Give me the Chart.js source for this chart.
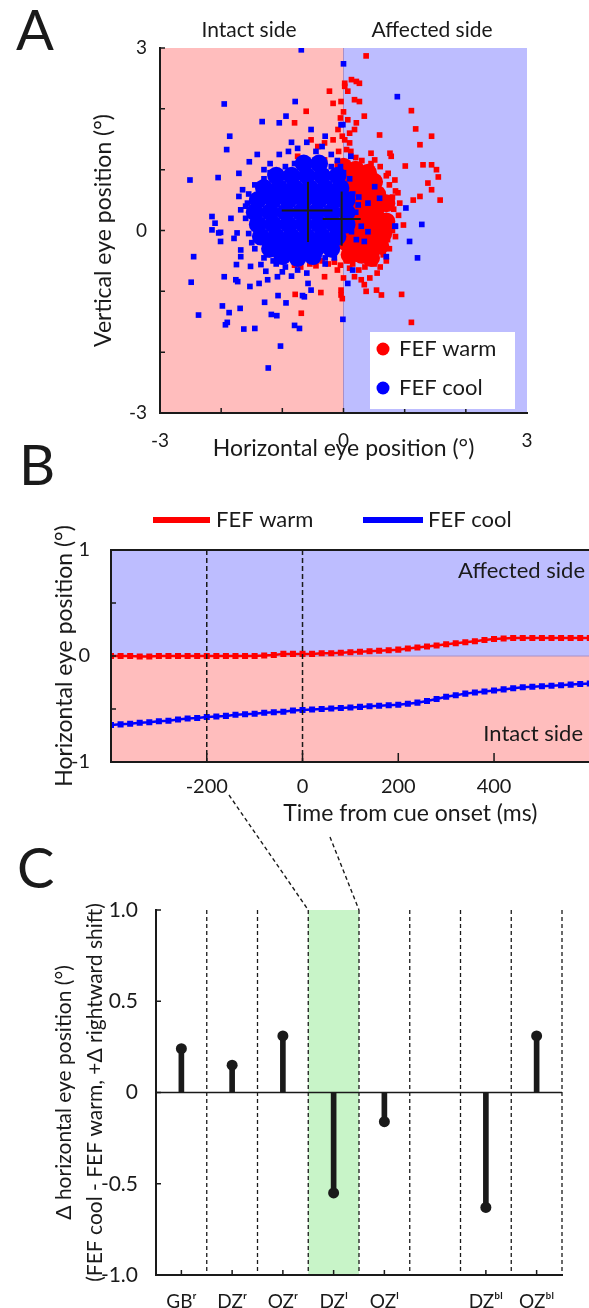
<!DOCTYPE html>
<html>
<head>
<meta charset="utf-8">
<script src="https://cdn.jsdelivr.net/npm/chart.js@4.4.0/dist/chart.umd.min.js"></script>
<style>
  html, body { margin: 0; padding: 0; overflow: hidden; background: #fff; }
  body { width: 589px; height: 1308px; position: relative; }
  canvas { position: absolute; left: 0; }
  #chartA { top: 0; }
  #chartB { top: 490px; }
  #chartC { top: 860px; }
  #overlay { top: 0; pointer-events: none; z-index: 5; }
</style>
</head>
<body>
<canvas id="chartA" width="589" height="470"></canvas>
<canvas id="chartB" width="716" height="340"></canvas>
<canvas id="chartC" width="589" height="448"></canvas>
<canvas id="overlay" width="589" height="1308"></canvas>
<script>
// ---------- panel A: end-of-fixation eye positions (deg) ----------
const warmCore = [
  [0.0, 1.05], [0.2, 1.0], [0.4, 0.95],
  [0.1, 0.8], [0.3, 0.8], [0.5, 0.8],
  [0.15, 0.6], [0.35, 0.6], [0.55, 0.6],
  [0.15, 0.4], [0.35, 0.4], [0.55, 0.4], [0.7, 0.45],
  [0.15, 0.2], [0.35, 0.2], [0.55, 0.2], [0.7, 0.15],
  [0.1, 0.0], [0.3, 0.0], [0.5, 0.0], [0.65, -0.05],
  [0.05, -0.2], [0.25, -0.2], [0.45, -0.2], [0.6, -0.25],
  [0.1, -0.4], [0.3, -0.4], [0.45, -0.45]
];
const warmPts = [
  [0.37, 2.87], [0.13, 2.48], [0.21, 2.45], [0.26, 2.42], [0.02, 2.42], [0.02, 2.37], [0.07, 2.29],
  [-0.23, 2.29], [-0.17, 2.09], [-0.04, 2.12], [0.18, 2.15], [0.26, 2.12], [-0.61, 1.96], [0.34, 1.88],
  [0.07, 1.82], [0.21, 1.77], [0.18, 1.66], [-0.8, 1.77], [-0.09, 1.66], [-0.53, 1.49], [-0.42, 1.38],
  [-0.31, 1.44], [-0.17, 1.49], [0.02, 1.49], [0.1, 1.44], [0.05, 1.33], [-0.75, 1.22], [-0.58, 1.05],
  [-0.31, 1.16], [0.59, 1.57], [0.76, 1.27], [0.78, 1.22], [0.45, 1.27], [0.51, 1.16], [1.11, 1.97],
  [1.18, 1.67], [1.44, 1.55], [1.25, 1.41], [1.01, 1.06], [1.30, 1.08], [1.44, 1.08], [1.52, 1.0],
  [1.55, 0.88], [1.38, 0.78], [1.44, 0.67], [1.58, 0.5], [1.14, 0.5], [1.25, 0.56], [0.73, 0.94],
  [0.84, 0.83], [0.89, 0.62], [0.98, 0.09], [0.01, 0.72],
  [0.0, 1.95], [-0.05, 1.85], [0.1, 1.6], [-0.02, 1.55], [0.12, 1.3], [-0.08, 1.3], [0.2, 1.2], [-0.1, 1.1],
  [0.82, 0.35], [0.9, 0.25], [0.78, 0.1], [0.85, -0.1], [0.75, -0.3], [0.8, 0.55], [0.92, 0.45],
  [0.95, -1.05], [1.11, -1.51], [0.62, -1.06], [0.54, -0.98], [0.37, -1.0], [0.34, -0.89], [0.18, -0.76],
  [0.29, -0.81], [0.43, -0.78], [-0.04, -1.06], [-0.04, -0.98], [-0.02, -1.12], [-0.79, -1.05],
  [-0.69, -1.36], [-0.37, -1.02], [-0.31, -0.76], [0.0, -0.78], [0.6, -0.6], [0.7, -0.5], [0.55, -0.7],
  [-0.8, -0.57], [-0.7, -0.6], [-0.55, -0.55], [-0.45, -0.58], [-0.35, -0.5], [-0.25, -0.55],
  [-0.15, -0.52], [-0.05, -0.57], [0.05, -0.5], [0.15, -0.55], [0.1, -0.62], [-0.1, -0.65],
  [0.75, 0.75], [0.7, 0.9], [0.6, 1.05], [0.45, 1.1], [0.8, 0.0], [0.72, -0.15], [0.65, -0.4],
  [0.5, -0.55], [0.35, -0.6], [0.25, -0.65], [0.85, 0.65], [0.3, 1.15]
];
const coolCore = [
  [-0.65, 1.1], [-0.4, 1.1],
  [-1.1, 0.9], [-0.85, 0.9], [-0.6, 0.9], [-0.35, 0.9], [-0.1, 0.9],
  [-1.3, 0.7], [-1.05, 0.7], [-0.8, 0.7], [-0.55, 0.7], [-0.3, 0.7], [-0.05, 0.7],
  [-1.4, 0.5], [-1.15, 0.5], [-0.9, 0.5], [-0.65, 0.5], [-0.4, 0.5], [-0.15, 0.5], [0.05, 0.5],
  [-1.45, 0.3], [-1.2, 0.3], [-0.95, 0.3], [-0.7, 0.3], [-0.45, 0.3], [-0.2, 0.3], [0.05, 0.3],
  [-1.4, 0.1], [-1.15, 0.1], [-0.9, 0.1], [-0.65, 0.1], [-0.4, 0.1], [-0.15, 0.1], [0.05, 0.1],
  [-1.35, -0.1], [-1.1, -0.1], [-0.85, -0.1], [-0.6, -0.1], [-0.35, -0.1], [-0.1, -0.1],
  [-1.2, -0.3], [-0.95, -0.3], [-0.7, -0.3], [-0.45, -0.3], [-0.2, -0.3],
  [-1.0, -0.42], [-0.75, -0.45], [-0.5, -0.42]
];
const coolPts = [
  [-0.69, 2.97], [0.0, 2.74], [-1.95, 2.08], [-0.79, 2.12], [-1.33, 1.79], [-1.86, 1.55], [-1.91, 1.33],
  [-2.51, 0.83], [-2.05, 0.87], [-1.05, 1.77], [-0.94, 1.88], [-0.53, 1.66], [-0.04, 1.74], [-1.54, 1.13],
  [-1.41, 1.25], [-1.71, 0.94], [-1.65, 0.67], [-1.71, 0.56], [-2.15, 0.23], [-2.1, 0.12], [-2.01, -0.03],
  [-1.84, 0.2], [-1.68, 0.34], [-1.57, 0.45], [0.88, 2.2], [1.02, 0.37], [0.85, 0.07], [1.28, 0.1],
  [0.12, 1.22], [0.51, 0.72], [0.59, 0.53], [0.4, 0.45], [0.24, 0.42], [-0.01, 1.74],
  [-2.45, -0.43], [-2.49, -0.85], [-2.37, -1.39], [-1.98, -1.24], [-1.87, -1.35], [-1.9, -1.51],
  [-1.93, -1.55], [-1.69, -1.28], [-1.63, -1.62], [-1.45, -1.61], [-1.29, -1.18], [-1.18, -1.38],
  [-1.09, -1.40], [-1.07, -1.07], [-0.94, -1.19], [-0.67, -1.07], [-0.8, -1.56], [-0.72, -1.61],
  [-1.03, -1.9], [-1.23, -2.26], [-0.01, -1.46], [-1.95, -0.76], [-1.76, -0.81], [-1.73, -0.84],
  [-1.53, -0.92], [-1.38, -0.87], [-1.24, -0.81], [-1.75, -0.56], [-1.68, -0.43], [-1.68, -0.32],
  [-2.01, -0.18], [-2.15, 0.01], [-2.04, -0.04], [-1.79, -0.13], [-1.74, -0.04], [-1.52, -0.59],
  [-1.35, -0.56], [-1.27, -0.67], [-1.08, -0.76], [-0.58, -0.87], [-0.53, -0.98], [-0.64, -1.09],
  [1.08, -0.18], [1.21, -0.45], [0.7, -0.43], [0.84, 0.07], [0.07, -0.87], [0.15, -0.65], [0.13, -0.02],
  [0.21, -0.15], [0.34, -0.18], [0.4, -0.02], [0.29, 0.07],
  [-1.3, 1.0], [-1.2, 1.1], [-1.05, 1.25], [-0.9, 1.3], [-0.75, 1.35], [-0.6, 1.45], [-0.45, 1.3],
  [-0.35, 1.38], [-0.2, 1.25], [-0.1, 1.15], [-0.85, 1.45], [-0.3, 1.55],
  [0.15, 0.6], [0.2, 0.3], [0.1, 0.85], [0.25, 0.55],
  [-1.45, -0.3], [-1.3, -0.45], [-1.15, -0.5], [-0.95, -0.6], [-0.75, -0.65], [-0.6, -0.7],
  [-1.4, -0.15], [-0.85, -0.75], [-1.0, -0.68],
  [-1.6, 0.2], [-1.6, 0.4], [-1.55, 0.6], [-1.55, -0.05], [-1.5, -0.2], [-1.45, 0.75], [-1.3, 0.85],
  [-1.2, 0.95], [-0.95, 1.05], [-0.8, 1.1], [-0.2, 1.05], [0.0, 0.95], [-0.05, 1.05], [-0.3, -0.45],
  [-0.15, -0.45], [-0.3, -0.55], [-1.25, -0.4], [-1.1, -0.55]
];
// mean +/- spread crosses
const coolCrossH = [[-1.01, 0.33], [-0.18, 0.33]];
const coolCrossV = [[-0.58, -0.19], [-0.58, 0.80]];
const warmCrossH = [[-0.34, 0.19], [0.28, 0.19]];
const warmCrossV = [[-0.03, -0.25], [-0.03, 0.64]];

// ---------- panel B: mean horizontal eye position vs time ----------
const timeMs = [-400, -380, -360, -340, -320, -300, -280, -260, -240, -220,
  -200, -180, -160, -140, -120, -100, -80, -60, -40, -20,
  0, 20, 40, 60, 80, 100, 120, 140, 160, 180,
  200, 220, 240, 260, 280, 300, 320, 340, 360, 380,
  400, 420, 440, 460, 480, 500, 520, 540, 560, 580, 600];
const warmTrace = [0.0, 0.0, 0.0, -0.005, -0.005, 0.0, 0.0, 0.0, 0.0, 0.0,
  0.0, 0.0, 0.0, 0.0, 0.0, 0.0, 0.005, 0.01, 0.02, 0.02,
  0.02, 0.02, 0.025, 0.025, 0.03, 0.035, 0.04, 0.045, 0.05, 0.055,
  0.06, 0.07, 0.08, 0.09, 0.10, 0.11, 0.12, 0.13, 0.14, 0.15,
  0.16, 0.165, 0.17, 0.17, 0.17, 0.17, 0.17, 0.17, 0.17, 0.17, 0.17];
const coolTrace = [-0.65, -0.645, -0.64, -0.63, -0.625, -0.615, -0.61, -0.6, -0.59, -0.585,
  -0.575, -0.57, -0.565, -0.555, -0.55, -0.545, -0.535, -0.53, -0.525, -0.515,
  -0.51, -0.505, -0.5, -0.495, -0.49, -0.485, -0.48, -0.475, -0.47, -0.465,
  -0.46, -0.45, -0.44, -0.425, -0.405, -0.385, -0.37, -0.355, -0.345, -0.335,
  -0.325, -0.315, -0.305, -0.295, -0.29, -0.285, -0.28, -0.275, -0.27, -0.265, -0.26];
const cueTimes = [-200, 0];

// ---------- panel C: cool - warm shift per site ----------
const sites = ['GBʳ', 'DZʳ', 'OZʳ', 'DZˡ', 'OZˡ', '', 'DZᵇˡ', 'OZᵇˡ'];
const shift = [0.24, 0.15, 0.31, -0.55, -0.16, null, -0.63, 0.31];
const highlightSite = 3;

const legendNames = ['FEF warm', 'FEF cool'];
const sideNames = ['Intact side', 'Affected side'];

const FONT = 'Lato, "DejaVu Sans", sans-serif';
const INK = '#1a1a1a';
const RED = '#ff0000';
const BLUE = '#0000ff';
const PINK = '#ffbdbd';
const LILAC = '#bdbdff';
const GREEN = '#c8f4c8';

Chart.defaults.font.family = FONT;
Chart.defaults.color = INK;

const toXY = arr => arr.map(p => ({ x: p[0], y: p[1] }));

// coloured half-planes (intact / affected)
const sideShade = {
  id: 'sideShade',
  beforeDraw(chart, args, opts) {
    const { ctx, chartArea: a, scales } = chart;
    ctx.save();
    if (opts.axis === 'x') {
      const x0 = scales.x.getPixelForValue(0);
      ctx.fillStyle = PINK;
      ctx.fillRect(a.left, a.top, x0 - a.left, a.bottom - a.top);
      ctx.fillStyle = LILAC;
      ctx.fillRect(x0, a.top, a.right - x0, a.bottom - a.top);
      ctx.strokeStyle = '#a890c8';
      ctx.lineWidth = 1;
      ctx.beginPath(); ctx.moveTo(x0, a.top); ctx.lineTo(x0, a.bottom); ctx.stroke();
    } else {
      const y0 = scales.y.getPixelForValue(0);
      ctx.fillStyle = LILAC;
      ctx.fillRect(a.left, a.top, a.right - a.left, y0 - a.top);
      ctx.fillStyle = PINK;
      ctx.fillRect(a.left, y0, a.right - a.left, a.bottom - y0);
      ctx.strokeStyle = '#a890c8';
      ctx.lineWidth = 1;
      ctx.beginPath(); ctx.moveTo(a.left, y0); ctx.lineTo(a.right, y0); ctx.stroke();
    }
    ctx.restore();
  }
};

// matlab style ticks pointing into the plot
const inTicks = {
  id: 'inTicks',
  afterDatasetsDraw(chart, args, opts) {
    const { ctx, chartArea: a, scales } = chart;
    ctx.save();
    ctx.strokeStyle = INK;
    ctx.lineWidth = 1.5;
    ctx.beginPath();
    scales.x.ticks.forEach(t => {
      if (opts.skipBlank && !t.label) return;
      const px = scales.x.getPixelForValue(t.value);
      if (px <= a.left + 1 || px >= a.right - 1) return;
      ctx.moveTo(px, a.bottom); ctx.lineTo(px, a.bottom - opts.lenX);
    });
    scales.y.ticks.forEach(t => {
      const py = scales.y.getPixelForValue(t.value);
      if (py >= a.bottom - 1) return;
      ctx.moveTo(a.left, py); ctx.lineTo(a.left + opts.lenY, py);
    });
    ctx.stroke();
    ctx.restore();
  }
};

// free text placed in the plot (side names)
const notes = {
  id: 'notes',
  afterDraw(chart, args, opts) {
    const { ctx } = chart;
    ctx.save();
    (opts.texts || []).forEach(t => {
      ctx.font = (t.size || 22) + 'px ' + FONT;
      ctx.fillStyle = INK;
      ctx.textAlign = t.align || 'center';
      ctx.textBaseline = 'middle';
      ctx.fillText(t.text, t.x, t.y);
    });
    ctx.restore();
  }
};

const legendA = {
  id: 'legendA',
  afterDraw(chart) {
    const { ctx } = chart;
    ctx.save();
    ctx.fillStyle = '#ffffff';
    ctx.fillRect(370, 332, 145, 77);
    [RED, BLUE].forEach((c, i) => {
      const y = 349 + i * 39;
      ctx.fillStyle = c;
      ctx.beginPath(); ctx.arc(383, y, 6.5, 0, Math.PI * 2); ctx.fill();
      ctx.fillStyle = INK;
      ctx.font = '22px ' + FONT;
      ctx.textBaseline = 'middle';
      ctx.fillText(legendNames[i], 399, y);
    });
    ctx.restore();
  }
};

const legendB = {
  id: 'legendB',
  afterDraw(chart) {
    const { ctx } = chart;
    const items = [[153, 210, 216, RED], [363, 423, 428, BLUE]];
    ctx.save();
    items.forEach((it, i) => {
      ctx.strokeStyle = it[3];
      ctx.lineWidth = 6;
      ctx.beginPath(); ctx.moveTo(it[0], 30); ctx.lineTo(it[1], 30); ctx.stroke();
      ctx.fillStyle = INK;
      ctx.font = '22px ' + FONT;
      ctx.textBaseline = 'middle';
      ctx.fillText(legendNames[i], it[2], 30);
    });
    ctx.restore();
  }
};

// dashed cue lines and box frame in panel B
const cueMarks = {
  id: 'cueMarks',
  afterDatasetsDraw(chart) {
    const { ctx, chartArea: a, scales } = chart;
    ctx.save();
    ctx.strokeStyle = INK;
    ctx.lineWidth = 1.5;
    ctx.setLineDash([5, 3]);
    cueTimes.forEach(t => {
      const px = scales.x.getPixelForValue(t);
      ctx.beginPath(); ctx.moveTo(px, a.top); ctx.lineTo(px, a.bottom); ctx.stroke();
    });
    ctx.setLineDash([]);
    ctx.lineWidth = 2;
    ctx.strokeRect(a.left, a.top, a.right - a.left, a.bottom - a.top);
    ctx.restore();
  }
};

// site slots in panel C: highlight, separators and zero line
const slotGuides = {
  id: 'slotGuides',
  beforeDraw(chart) {
    const { ctx, chartArea: a, scales } = chart;
    const slot = (a.right - a.left) / sites.length;
    const xc = scales.x.getPixelForValue(highlightSite);
    ctx.save();
    ctx.fillStyle = GREEN;
    ctx.fillRect(xc - slot / 2, a.top, slot, a.bottom - a.top);
    ctx.restore();
  },
  beforeDatasetsDraw(chart) {
    const { ctx, chartArea: a, scales } = chart;
    const slot = (a.right - a.left) / sites.length;
    ctx.save();
    ctx.strokeStyle = INK;
    ctx.lineWidth = 1.3;
    ctx.setLineDash([4, 3]);
    sites.forEach((s, i) => {
      const px = scales.x.getPixelForValue(i) + slot / 2;
      ctx.beginPath(); ctx.moveTo(px, a.top); ctx.lineTo(px, a.bottom); ctx.stroke();
    });
    ctx.setLineDash([]);
    ctx.lineWidth = 1.5;
    const y0 = scales.y.getPixelForValue(0);
    ctx.beginPath(); ctx.moveTo(a.left, y0); ctx.lineTo(a.right, y0); ctx.stroke();
    ctx.restore();
  }
};

const axisBorder = { display: true, color: INK, width: 2 };

// ---------- chart A ----------
const chartA = new Chart(document.getElementById('chartA'), {
  type: 'scatter',
  data: {
    datasets: [
      { label: 'FEF warm', data: toXY(warmCore), pointStyle: 'circle', pointRadius: 9, backgroundColor: RED, borderWidth: 0, order: 4 },
      { label: 'FEF warm', data: toXY(warmPts), pointStyle: 'rect', pointRadius: 4, backgroundColor: RED, borderWidth: 0, order: 3 },
      { label: 'FEF cool', data: toXY(coolCore), pointStyle: 'circle', pointRadius: 9, backgroundColor: BLUE, borderWidth: 0, order: 2 },
      { label: 'FEF cool', data: toXY(coolPts), pointStyle: 'rect', pointRadius: 4, backgroundColor: BLUE, borderWidth: 0, order: 1 },
      { type: 'line', data: toXY(coolCrossH), borderColor: INK, borderWidth: 2, pointRadius: 0, order: 0 },
      { type: 'line', data: toXY(coolCrossV), borderColor: INK, borderWidth: 2, pointRadius: 0, order: 0 },
      { type: 'line', data: toXY(warmCrossH), borderColor: INK, borderWidth: 2, pointRadius: 0, order: 0 },
      { type: 'line', data: toXY(warmCrossV), borderColor: INK, borderWidth: 2, pointRadius: 0, order: 0 }
    ]
  },
  options: {
    responsive: false,
    animation: false,
    events: [],
    layout: { padding: { top: 48, right: 62, left: 0, bottom: 0 } },
    plugins: {
      legend: { display: false },
      tooltip: { enabled: false },
      sideShade: { axis: 'x' },
      inTicks: { lenX: 5, lenY: 5 },
      notes: { texts: [
        { text: sideNames[0], x: 249, y: 30, size: 21 },
        { text: sideNames[1], x: 432, y: 30, size: 21 }
      ] }
    },
    scales: {
      x: {
        type: 'linear', min: -3, max: 3,
        ticks: { stepSize: 1, padding: 8, font: { size: 19 }, maxRotation: 0,
          callback: v => (v === -3 || v === 0 || v === 3) ? String(v) : '' },
        grid: { display: false },
        border: axisBorder,
        title: { display: true, text: 'Horizontal eye position (°)', font: { size: 23 }, padding: { top: 0, bottom: 8 } },
        afterFit: s => { s.height = 57; }
      },
      y: {
        type: 'linear', min: -3, max: 3,
        ticks: { stepSize: 1, padding: 5, font: { size: 19 },
          callback: v => (v === -3 || v === 0 || v === 3) ? String(v) : '' },
        grid: { display: false },
        border: axisBorder,
        title: { display: true, text: 'Vertical eye position (°)', font: { size: 23 }, padding: { top: 90, bottom: 0 } },
        afterFit: s => { s.width = 160; }
      }
    }
  },
  plugins: [sideShade, inTicks, notes, legendA]
});

// ---------- chart B ----------
const chartB = new Chart(document.getElementById('chartB'), {
  type: 'line',
  data: {
    datasets: [
      { label: 'FEF warm', data: timeMs.map((t, i) => ({ x: t, y: warmTrace[i] })), borderColor: RED, backgroundColor: RED,
        borderWidth: 2.5, pointStyle: 'rect', pointRadius: 2.5, tension: 0 },
      { label: 'FEF cool', data: timeMs.map((t, i) => ({ x: t, y: coolTrace[i] })), borderColor: BLUE, backgroundColor: BLUE,
        borderWidth: 2.5, pointStyle: 'rect', pointRadius: 2.5, tension: 0 }
    ]
  },
  options: {
    responsive: false,
    animation: false,
    events: [],
    layout: { padding: { top: 60, right: 0, left: 0, bottom: 0 } },
    plugins: {
      legend: { display: false },
      tooltip: { enabled: false },
      sideShade: { axis: 'y' },
      inTicks: { lenX: 9, lenY: 5 },
      notes: { texts: [
        { text: sideNames[1], x: 585, y: 81, size: 22, align: 'right' },
        { text: sideNames[0], x: 583, y: 244, size: 22, align: 'right' }
      ] }
    },
    scales: {
      x: {
        type: 'linear', min: -400, max: 850,
        ticks: { stepSize: 200, padding: 5, font: { size: 20 }, maxRotation: 0,
          callback: v => (v >= -200 && v <= 400) ? String(v) : '' },
        grid: { display: false },
        border: axisBorder,
        title: { display: true, text: 'Time from cue onset (ms)', font: { size: 23 }, padding: { top: 0, bottom: 3 } },
        afterFit: s => { s.height = 68; }
      },
      y: {
        type: 'linear', min: -1, max: 1,
        ticks: { stepSize: 0.5, padding: 13, font: { size: 20 },
          callback: v => (v === -1 || v === 0 || v === 1) ? String(v) : '' },
        grid: { display: false },
        border: axisBorder,
        title: { display: true, text: 'Horizontal eye position (°)', font: { size: 23 }, padding: { top: 51, bottom: 0 } },
        afterFit: s => { s.width = 111; }
      }
    }
  },
  plugins: [sideShade, cueMarks, inTicks, notes, legendB]
});

// ---------- chart C ----------
const chartC = new Chart(document.getElementById('chartC'), {
  type: 'bar',
  data: {
    labels: sites,
    datasets: [
      { type: 'bar', data: shift, backgroundColor: INK, barThickness: 5, order: 1 },
      { type: 'line', data: shift, showLine: false, pointRadius: 5.5, pointBackgroundColor: INK, pointBorderWidth: 0, order: 0 }
    ]
  },
  options: {
    responsive: false,
    animation: false,
    events: [],
    layout: { padding: { top: 50, right: 27, left: 0, bottom: 0 } },
    plugins: {
      legend: { display: false },
      tooltip: { enabled: false },
      inTicks: { lenX: 5, lenY: 5, skipBlank: true }
    },
    scales: {
      x: {
        ticks: { padding: 7, font: { size: 19 }, maxRotation: 0, autoSkip: false },
        grid: { display: false },
        border: axisBorder,
        afterFit: s => { s.height = 33; }
      },
      y: {
        min: -1, max: 1,
        ticks: { stepSize: 0.5, padding: 10, font: { size: 21 },
          callback: v => v === 0 ? '0' : v.toFixed(1) },
        grid: { display: false },
        border: axisBorder,
        title: { display: true,
          text: ['Δ horizontal eye position (°)', '(FEF cool - FEF warm, +Δ rightward shift)'],
          font: { size: 21, lineHeight: 1.5 }, padding: { top: 48, bottom: 0 } },
        afterFit: s => { s.width = 156; }
      }
    }
  },
  plugins: [slotGuides, inTicks]
});

// ---------- panel letters and zoom connectors ----------
const ov = document.getElementById('overlay').getContext('2d');
ov.fillStyle = INK;
ov.font = '56px ' + FONT;
ov.textBaseline = 'alphabetic';
ov.fillText('A', 16, 50);
ov.fillText('B', 19, 485);
ov.fillText('C', 17, 888);

const cArea = chartC.chartArea;
const cSlot = (cArea.right - cArea.left) / sites.length;
const cMid = chartC.scales.x.getPixelForValue(highlightSite);
const cTop = 860 + cArea.top;
ov.strokeStyle = INK;
ov.lineWidth = 1.4;
ov.setLineDash([4, 3]);
ov.beginPath(); ov.moveTo(229, 795); ov.lineTo(cMid - cSlot / 2, cTop); ov.stroke();
ov.beginPath(); ov.moveTo(330, 837); ov.lineTo(cMid + cSlot / 2, cTop); ov.stroke();
</script>
</body>
</html>
